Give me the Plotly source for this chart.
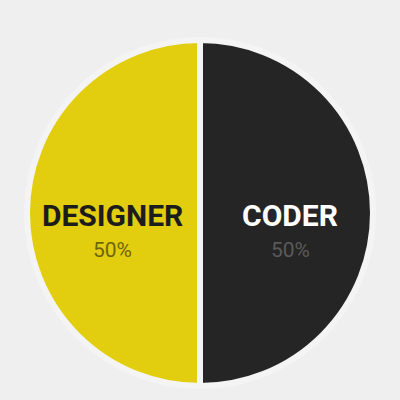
import plotly.graph_objects as go

labels = ["DESIGNER", "CODER"]
values = [50, 50]
slice_colors = ["#e2cd0e", "#252525"]
label_colors = ["#1c1c1c", "#ffffff"]
pct_colors = ["#6f6508", "#5a5a5a"]

FONT = "Roboto, Liberation Sans Narrow, sans-serif"

fig = go.Figure(go.Pie(
    labels=labels,
    values=values,
    textinfo="none",
    sort=False,
    direction="clockwise",
    rotation=180,
    marker=dict(colors=slice_colors, line=dict(color="#f4f4f4", width=6)),
    domain=dict(x=[0.065, 0.935], y=[0.035, 0.9]),
    showlegend=False,
    hoverinfo="label+percent",
))

label_x = [0.2825, 0.725]
total = sum(values)
for lab, v, lc, pc, x in zip(labels, values, label_colors, pct_colors, label_x):
    fig.add_annotation(x=x, y=0.4625, xref="paper", yref="paper", showarrow=False,
                       xanchor="center", yanchor="middle",
                       text=f"<b>{lab}</b>",
                       font=dict(family=FONT, size=30, color=lc))
    fig.add_annotation(x=x, y=0.375, xref="paper", yref="paper", showarrow=False,
                       xanchor="center", yanchor="middle",
                       text=f"{round(100 * v / total)}%",
                       font=dict(family=FONT, size=21, color=pc))

fig.update_layout(
    width=400, height=400,
    margin=dict(l=0, r=0, t=0, b=0),
    paper_bgcolor="#efefef",
    plot_bgcolor="#efefef",
)

fig.write_html("out.html")
